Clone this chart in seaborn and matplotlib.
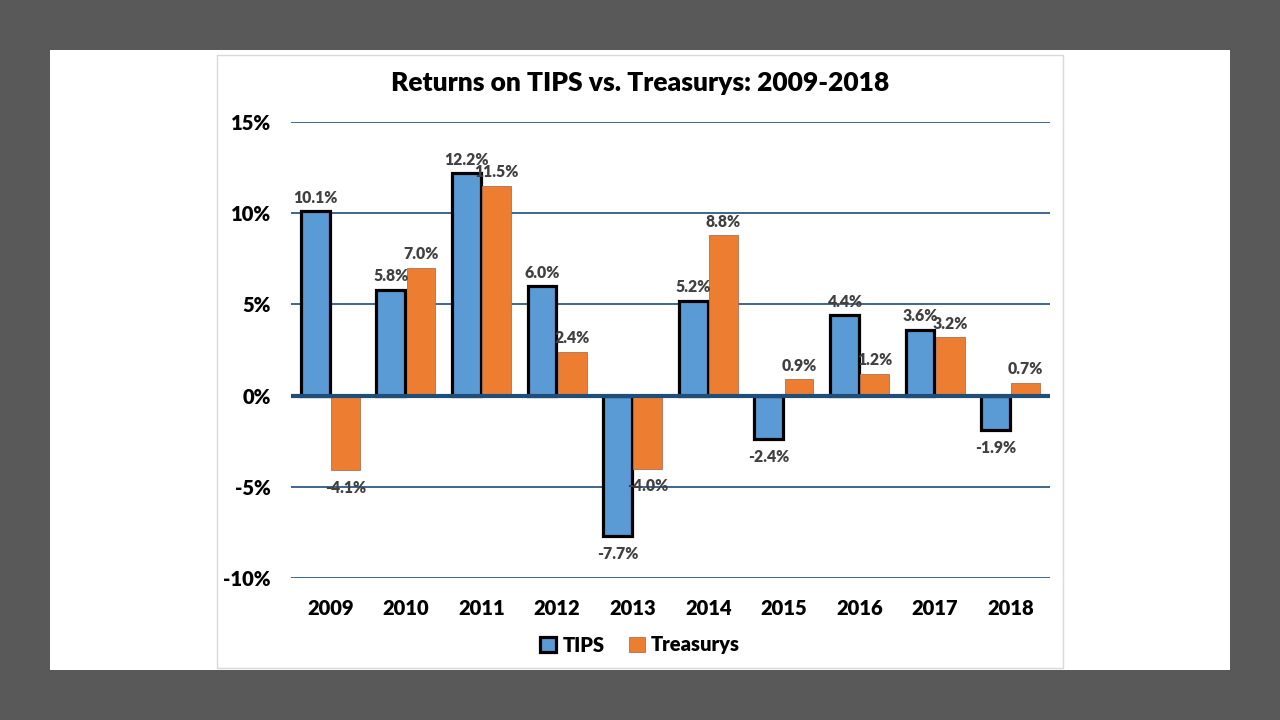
import matplotlib.pyplot as plt
import matplotlib.patches as mpatches
import seaborn as sns
import pandas as pd

# 数据
years = ['2009', '2010', '2011', '2012', '2013', '2014', '2015', '2016', '2017', '2018']
tips = [10.1, 5.8, 12.2, 6.0, -7.7, 5.2, -2.4, 4.4, 3.6, -1.9]
treasurys = [-4.1, 7.0, 11.5, 2.4, -4.0, 8.8, 0.9, 1.2, 3.2, 0.7]
series = ['TIPS', 'Treasurys']
colors = ['#5B9BD5', '#ED7D31']

df = pd.DataFrame({
    'Year': years * 2,
    'Return': tips + treasurys,
    'Series': ['TIPS'] * len(years) + ['Treasurys'] * len(years),
})

sns.set_style('white')
plt.rcParams['font.family'] = ['Lato', 'DejaVu Sans']
plt.rcParams['font.weight'] = 'heavy'
plt.rcParams['text.color'] = 'black'
plt.rcParams['xtick.color'] = 'black'
plt.rcParams['ytick.color'] = 'black'
W = 'heavy'

fig = plt.figure(figsize=(12.8, 7.2), dpi=100)
fig.patch.set_facecolor('#595959')

# 白色幻灯片区域和图表边框
fig.patches.append(mpatches.Rectangle((50 / 1280, 50 / 720), 1180 / 1280, 620 / 720,
                                      transform=fig.transFigure, facecolor='white',
                                      edgecolor='none', zorder=-10))
fig.patches.append(mpatches.Rectangle((217 / 1280, 52 / 720), 846 / 1280, 613 / 720,
                                      transform=fig.transFigure, facecolor='white',
                                      edgecolor='#D9D9D9', linewidth=1, zorder=-9))

ax = fig.add_axes([291 / 1280, 1 - 578 / 720, 759 / 1280, 456 / 720])
ax.set_facecolor('none')

sns.barplot(data=df, x='Year', y='Return', hue='Series', hue_order=series,
            palette=colors, saturation=1, width=0.8, gap=0.05, ax=ax, legend=False, zorder=3)

# 边框：TIPS 黑色粗边，Treasurys 细边
for cont, ser in zip(ax.containers, series):
    for p in cont:
        if ser == 'TIPS':
            p.set_edgecolor('black')
            p.set_linewidth(2.3)
        else:
            p.set_edgecolor('#B07050')
            p.set_linewidth(0.6)

# 数据标签
for cont, vals in zip(ax.containers, [tips, treasurys]):
    for p, v in zip(cont, vals):
        xc = p.get_x() + p.get_width() / 2
        if v >= 0:
            ax.annotate(f'{v:.1f}%', (xc, v), xytext=(0, 4), textcoords='offset points',
                        ha='center', va='bottom', fontsize=11.3, fontweight=W, color='#404040')
        else:
            ax.annotate(f'{v:.1f}%', (xc, v), xytext=(0, -7), textcoords='offset points',
                        ha='center', va='top', fontsize=11.3, fontweight=W, color='#404040')

ax.set_ylim(-10, 15)
ax.set_xlim(-0.52, 9.52)
ax.set_yticks([-10, -5, 0, 5, 10, 15])
ax.set_yticklabels([f'{t}%' for t in [-10, -5, 0, 5, 10, 15]], fontsize=14.5, fontweight=W)
ax.set_xticks(range(len(years)))
ax.set_xticklabels(years, fontsize=14.5, fontweight=W)
ax.tick_params(axis='x', length=0, pad=15)
ax.tick_params(axis='y', length=0, pad=14.5)
ax.set_xlabel('')
ax.set_ylabel('')
for s in ax.spines.values():
    s.set_visible(False)

for t in [-10, -5, 5, 10, 15]:
    ax.axhline(t, color='#1F4E79', linewidth=1.2, zorder=1)
ax.axhline(0, color='#1F4E79', linewidth=3, zorder=4)

fig.text(640 / 1280, 1 - 83 / 720, 'Returns on TIPS vs. Treasurys: 2009-2018',
         ha='center', va='center', fontsize=19, fontweight=W, color='black')

handles = [mpatches.Patch(facecolor=colors[0], edgecolor='black', linewidth=2.3, label='TIPS'),
           mpatches.Patch(facecolor=colors[1], edgecolor='#B07050', linewidth=0.6, label='Treasurys')]
fig.legend(handles=handles, loc='center', bbox_to_anchor=(640 / 1280, 1 - 645 / 720), ncol=2,
           frameon=False, handlelength=0.8, handleheight=0.8,
           handletextpad=0.3, columnspacing=1.2, prop={'weight': W, 'size': 14.5})

fig.savefig('out.png', dpi=100, facecolor=fig.get_facecolor())
